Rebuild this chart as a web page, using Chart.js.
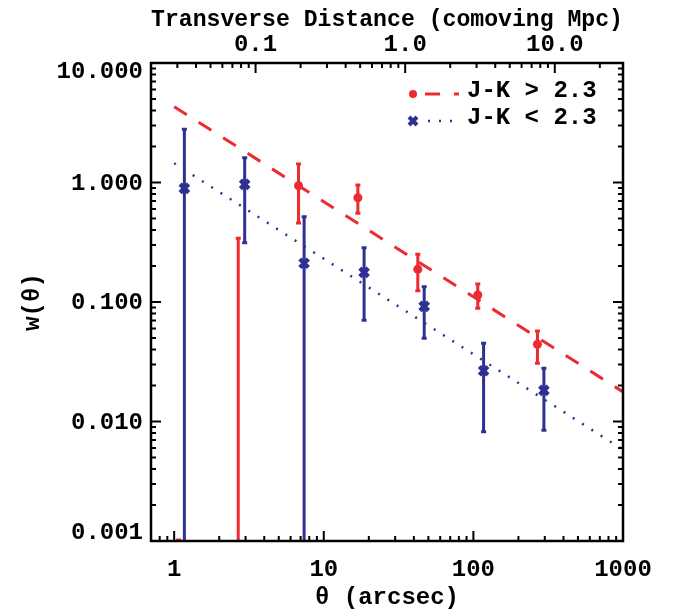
<!DOCTYPE html>
<html>
<head>
<meta charset="utf-8">
<script src="https://cdn.jsdelivr.net/npm/chart.js@4"></script>
<style>
  html, body { margin: 0; padding: 0; background: #fff; }
</style>
</head>
<body>
<canvas id="myChart" width="673" height="612"></canvas>
<script>
// ---- datos: theta en arcsec, w(theta) ----
const thetaRed = [1.07, 2.68, 6.78, 16.9, 42.5, 107, 268];
const wRed     = [null, null, 0.94, 0.746, 0.188, 0.1145, 0.0443];
const wRedHi   = [0.00102, 0.341, 1.43, 0.953, 0.251, 0.1415, 0.0572];
const wRedLo   = [0.0001, 0.0001, 0.458, 0.552, 0.124, 0.0886, 0.0307];

const thetaBlue = [1.17, 2.96, 7.39, 18.6, 46.9, 117, 296];
const wBlue     = [0.894, 0.966, 0.211, 0.177, 0.092, 0.0266, 0.0182];
const wBlueHi   = [2.79, 1.61, 0.518, 0.285, 0.134, 0.0451, 0.0279];
const wBlueLo   = [0.0001, 0.313, 0.0001, 0.0703, 0.0497, 0.00822, 0.00843];

// ajustes de ley de potencia (extremos)
const fitTheta = [1, 1000];
const fitRed   = [4.31, 0.0177];
const fitBlue  = [1.45, 0.0058];

// etiquetas de ejes
const xTickLabels  = { 1: "1", 10: "10", 100: "100", 1000: "1000" };
const x2TickLabels = { 0.1: "0.1", 1: "1.0", 10: "10.0" };
const yTickValues  = [0.001, 0.01, 0.1, 1, 10];
const yTickLabels  = ["0.001", "0.010", "0.100", "1.000", "10.000"];
const legendLabels = ["J-K > 2.3", "J-K < 2.3"];

const MPC_PER_ARCSEC = 1 / 35;
const RED = "#ED2A2F";
const BLUE = "#2E3192";
const FONT = "'Liberation Mono', monospace";

Chart.defaults.font.family = FONT;
Chart.defaults.font.size = 24;
Chart.defaults.font.weight = "bold";
Chart.defaults.color = "#000";

const toPoints = (xs, ys) => xs.map((x, i) => ({ x: x, y: ys[i] }));

const isMajor = (v) => Math.abs(Math.log10(v) - Math.round(Math.log10(v))) < 1e-6;
const labelFrom = (table) => (v) => {
  if (!isMajor(v)) return "";
  const key = Math.pow(10, Math.round(Math.log10(v)));
  return table[key] !== undefined ? table[key] : "";
};

// ---- barras de error ----
const errorBars = {
  id: "errorBars",
  afterDatasetsDraw(chart) {
    const { ctx, chartArea, scales } = chart;
    const draw = (xs, lo, hi, color) => {
      ctx.strokeStyle = color;
      ctx.lineWidth = 3;
      xs.forEach((t, i) => {
        const px = scales.x.getPixelForValue(t);
        const yHi = scales.y.getPixelForValue(hi[i]);
        const yLo = scales.y.getPixelForValue(lo[i]);
        ctx.beginPath();
        ctx.moveTo(px, yLo);
        ctx.lineTo(px, yHi);
        ctx.moveTo(px - 2.5, yHi);
        ctx.lineTo(px + 2.5, yHi);
        ctx.moveTo(px - 2.5, yLo);
        ctx.lineTo(px + 2.5, yLo);
        ctx.stroke();
      });
    };
    ctx.save();
    ctx.beginPath();
    ctx.rect(chartArea.left, chartArea.top, chartArea.right - chartArea.left, chartArea.bottom - chartArea.top + 1);
    ctx.clip();
    draw(thetaRed, wRedLo, wRedHi, RED);
    draw(thetaBlue, wBlueLo, wBlueHi, BLUE);
    ctx.restore();
  }
};

// ---- marco, marcas de ejes, etiquetas del eje y y leyenda ----
const frameAndLegend = {
  id: "frameAndLegend",
  afterDraw(chart) {
    const { ctx, chartArea: a, scales } = chart;
    ctx.save();
    ctx.strokeStyle = "#000";
    ctx.lineWidth = 2.5;
    ctx.strokeRect(a.left, a.top, a.right - a.left, a.bottom - a.top);

    const logTicks = (scale, fn) => {
      const e0 = Math.floor(Math.log10(scale.min));
      const e1 = Math.ceil(Math.log10(scale.max));
      for (let e = e0; e <= e1; e++) {
        for (let m = 1; m <= 9; m++) {
          const v = m * Math.pow(10, e);
          if (v < scale.min * 0.999 || v > scale.max * 1.001) continue;
          fn(scale.getPixelForValue(v), m === 1 ? 10 : 5);
        }
      }
    };
    ctx.lineWidth = 2;
    ctx.beginPath();
    logTicks(scales.x, (p, len) => { ctx.moveTo(p, a.bottom); ctx.lineTo(p, a.bottom - len); });
    logTicks(scales.x2, (p, len) => { ctx.moveTo(p, a.top); ctx.lineTo(p, a.top + len); });
    logTicks(scales.y, (p, len) => {
      ctx.moveTo(a.left, p); ctx.lineTo(a.left + len, p);
      ctx.moveTo(a.right, p); ctx.lineTo(a.right - len, p);
    });
    ctx.stroke();

    // etiquetas eje y
    ctx.fillStyle = "#000";
    ctx.font = "bold 24px " + FONT;
    ctx.textAlign = "right";
    ctx.textBaseline = "middle";
    yTickValues.forEach((v, i) => {
      let py = scales.y.getPixelForValue(v) + 1;
      py = Math.min(Math.max(py, a.top + 9), a.bottom - 8);
      ctx.fillText(yTickLabels[i], a.left - 8, py);
    });

    // leyenda
    const lx = 413, rows = [94, 121];
    ctx.fillStyle = RED;
    ctx.beginPath();
    ctx.arc(lx, rows[0], 4, 0, Math.PI * 2);
    ctx.fill();
    ctx.strokeStyle = RED;
    ctx.lineWidth = 3;
    ctx.setLineDash([15, 14]);
    ctx.beginPath();
    ctx.moveTo(425, rows[0]); ctx.lineTo(459, rows[0]);
    ctx.stroke();

    ctx.strokeStyle = BLUE;
    ctx.lineWidth = 4;
    ctx.setLineDash([]);
    ctx.beginPath();
    ctx.moveTo(lx - 4, rows[1] - 4); ctx.lineTo(lx + 4, rows[1] + 4);
    ctx.moveTo(lx - 4, rows[1] + 4); ctx.lineTo(lx + 4, rows[1] - 4);
    ctx.stroke();
    ctx.lineWidth = 2.5;
    ctx.setLineDash([2, 9]);
    ctx.beginPath();
    ctx.moveTo(428, rows[1]); ctx.lineTo(459, rows[1]);
    ctx.stroke();
    ctx.setLineDash([]);

    ctx.fillStyle = "#000";
    ctx.textAlign = "left";
    ctx.fillText(legendLabels[0], 467, rows[0] - 3);
    ctx.fillText(legendLabels[1], 467, rows[1] - 3);
    ctx.restore();
  }
};

const chart = new Chart(document.querySelector("#myChart"), {
  type: "scatter",
  data: {
    datasets: [
      {
        label: legendLabels[0],
        data: toPoints(thetaRed, wRed),
        pointStyle: "circle",
        pointRadius: 4.5,
        backgroundColor: RED,
        borderColor: RED,
        borderWidth: 0,
      },
      {
        label: legendLabels[1],
        data: toPoints(thetaBlue, wBlue),
        pointStyle: "crossRot",
        pointRadius: 6,
        backgroundColor: BLUE,
        borderColor: BLUE,
        borderWidth: 4.5,
      },
      {
        label: "fit red",
        data: toPoints(fitTheta, fitRed),
        showLine: true,
        pointRadius: 0,
        borderColor: RED,
        borderWidth: 3,
        borderDash: [15, 14],
      },
      {
        label: "fit blue",
        data: toPoints(fitTheta, fitBlue),
        showLine: true,
        pointRadius: 0,
        borderColor: BLUE,
        borderWidth: 2.5,
        borderDash: [2, 9],
      },
    ],
  },
  options: {
    responsive: false,
    animation: false,
    devicePixelRatio: 1,
    layout: { padding: { left: 0, right: 50, top: 0, bottom: 0 } },
    plugins: { legend: { display: false }, tooltip: { enabled: false } },
    scales: {
      x: {
        type: "logarithmic",
        position: "bottom",
        min: 0.7,
        max: 1000,
        grid: { display: false, drawTicks: false },
        border: { display: false },
        ticks: {
          autoSkip: false,
          maxRotation: 0,
          padding: 17,
          font: { size: 24, lineHeight: 1 },
          callback: labelFrom(xTickLabels),
        },
        title: {
          display: true,
          text: "θ (arcsec)",
          font: { size: 24, lineHeight: 1 },
          padding: { top: 0, bottom: 2 },
        },
        afterFit: (s) => { s.height = 71; },
      },
      x2: {
        type: "logarithmic",
        position: "top",
        min: 0.7 * MPC_PER_ARCSEC,
        max: 1000 * MPC_PER_ARCSEC,
        grid: { display: false, drawTicks: false },
        border: { display: false },
        ticks: {
          autoSkip: false,
          maxRotation: 0,
          padding: 6,
          font: { size: 24, lineHeight: 1 },
          callback: labelFrom(x2TickLabels),
        },
        title: {
          display: true,
          text: "Transverse Distance (comoving Mpc)",
          font: { size: 24, lineHeight: 1 },
          padding: { top: 8, bottom: 0 },
        },
        afterFit: (s) => { s.height = 63; },
      },
      y: {
        type: "logarithmic",
        min: 0.001,
        max: 10,
        grid: { display: false, drawTicks: false },
        border: { display: false },
        ticks: { display: false },
        title: {
          display: true,
          text: "w(θ)",
          font: { size: 24, lineHeight: 1 },
          padding: { top: 21, bottom: 0 },
        },
        afterFit: (s) => { s.width = 151; },
      },
    },
  },
  plugins: [errorBars, frameAndLegend],
});
</script>
</body>
</html>
